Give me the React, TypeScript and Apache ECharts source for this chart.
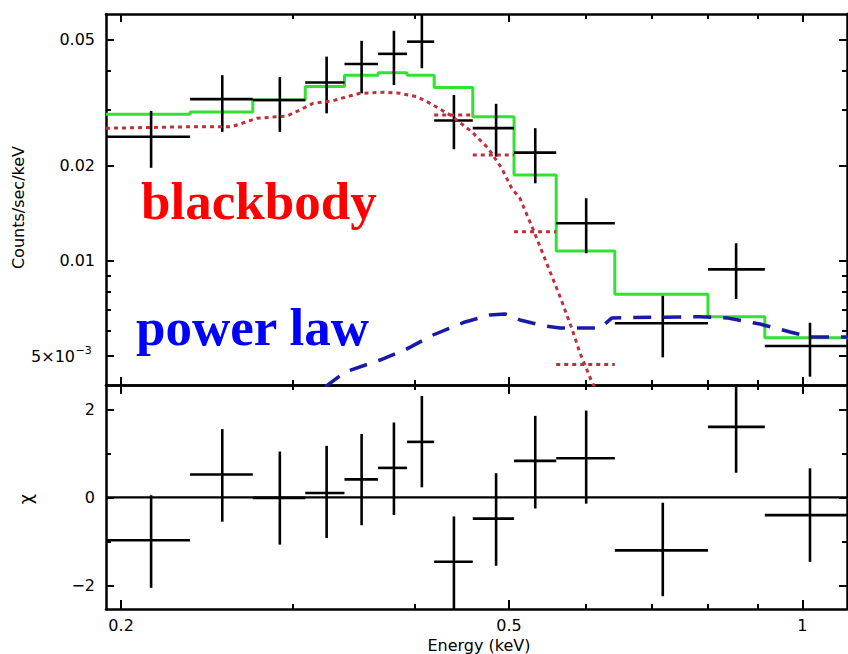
import React, { useEffect, useRef } from 'react';
import * as echarts from 'echarts';

// ---------- data ----------
const binLo = [0.193, 0.2354, 0.273, 0.309, 0.339, 0.367, 0.393, 0.419, 0.459, 0.506, 0.559, 0.642, 0.8, 0.915];
const binHi = [0.2354, 0.273, 0.309, 0.339, 0.367, 0.393, 0.419, 0.459, 0.506, 0.559, 0.642, 0.8, 0.915, 1.114];
const energy = [0.2147, 0.254, 0.291, 0.325, 0.353, 0.381, 0.407, 0.439, 0.485, 0.532, 0.6, 0.719, 0.855, 1.018];

const rate = [0.0247, 0.0325, 0.0323, 0.0367, 0.042, 0.0452, 0.0494, 0.0278, 0.0263, 0.022, 0.01315, 0.00635, 0.0094, 0.00538];
const rateLo = [0.0197, 0.0256, 0.0256, 0.0293, 0.0339, 0.036, 0.0407, 0.02255, 0.02137, 0.0176, 0.01057, 0.00495, 0.00758, 0.0043];
const rateHi = [0.0298, 0.0387, 0.0382, 0.0443, 0.0497, 0.0535, 0.0615, 0.0335, 0.0314, 0.0263, 0.01578, 0.00775, 0.01137, 0.00637];

const chi = [-0.97, 0.52, -0.01, 0.1, 0.41, 0.67, 1.26, -1.46, -0.48, 0.83, 0.89, -1.2, 1.6, -0.4];
const chiLo = [-2.05, -0.55, -1.07, -0.92, -0.63, -0.4, 0.23, -2.53, -1.55, -0.25, -0.14, -2.24, 0.56, -1.46];
const chiHi = [0.05, 1.55, 1.04, 1.17, 1.44, 1.7, 2.3, -0.43, 0.55, 1.85, 1.97, -0.12, 2.62, 0.66];

const totalModel = [0.0291, 0.0296, 0.0323, 0.0356, 0.0387, 0.0394, 0.0387, 0.0354, 0.0286, 0.0187, 0.01075, 0.00784, 0.00666, 0.00571];

const bbE = [0.193, 0.2363, 0.2598, 0.2692, 0.2756, 0.2958, 0.3052, 0.3147, 0.33, 0.3408, 0.3517, 0.3713, 0.3864, 0.4022, 0.415, 0.4351, 0.4579, 0.4758, 0.4915, 0.5032, 0.5131, 0.5296, 0.5466, 0.5641, 0.5799, 0.5914, 0.608, 0.62];
const bbV = [0.02628, 0.02658, 0.02658, 0.02757, 0.02826, 0.02874, 0.03003, 0.03152, 0.03212, 0.03307, 0.0339, 0.03416, 0.0339, 0.03307, 0.03152, 0.02894, 0.02564, 0.02276, 0.01963, 0.01697, 0.01578, 0.01252, 0.00982, 0.0077, 0.00612, 0.0051, 0.004146, 0.0037];
const bbBinIndex = [7, 8, 9, 10];
const bbBinV = [0.02895, 0.02163, 0.01237, 0.0047];

const plE = [0.3239, 0.3394, 0.3687, 0.3911, 0.4179, 0.4507, 0.478, 0.4952, 0.5131, 0.5444, 0.5641, 0.62, 0.6377, 0.7853, 0.8366, 0.9045, 0.9712, 1.018, 1.114];
const plV = [0.00399, 0.00445, 0.004855, 0.005224, 0.005826, 0.006406, 0.00674, 0.00679, 0.0065, 0.00622, 0.00613, 0.00613, 0.0066, 0.00666, 0.0066, 0.00631, 0.005956, 0.00574, 0.00574];

const xMajor = [0.2, 0.5, 1];
const xMinor = [0.3, 0.4, 0.6, 0.7, 0.8, 0.9];
const yTopMajor = [0.005, 0.01, 0.02, 0.05];
const yTopLabels = [0.01, 0.02, 0.05];
const yTopMinor = [0.006, 0.007, 0.008, 0.009, 0.03, 0.04];
const yBotMajor = [-2, 0, 2];
const yBotMinor = [-1, 1];

const X_MIN = 0.193;
const X_MAX = 1.111;
const YT_MIN = 0.004047;
const YT_MAX = 0.06043;
const YB_MIN = -2.53;
const YB_MAX = 2.55;

const FONT = 'DejaVu Sans';

function xAx(grid: number, pos: string, ticks: number[], len: number, line: boolean, labels?: number[]) {
  return {
    type: 'log', logBase: 10, gridIndex: grid, position: pos, min: X_MIN, max: X_MAX,
    axisLine: { show: line, onZero: false, lineStyle: { color: '#000', width: 2.5 } },
    axisTick: { show: true, inside: true, length: len, customValues: ticks, lineStyle: { color: '#000', width: 2 } },
    axisLabel: labels
      ? { show: true, customValues: labels, margin: 8, color: '#000', fontFamily: FONT, fontSize: 16,
          formatter: (v: number) => String(Number(v.toPrecision(6))) }
      : { show: false },
    splitLine: { show: false }, minorTick: { show: false }, minorSplitLine: { show: false },
  };
}

function yTopAx(pos: string, ticks: number[], len: number, line: boolean, labels?: number[]) {
  return {
    type: 'log', logBase: 10, gridIndex: 0, position: pos, min: YT_MIN, max: YT_MAX,
    axisLine: { show: line, onZero: false, lineStyle: { color: '#000', width: 2.5 } },
    axisTick: { show: true, inside: true, length: len, customValues: ticks, lineStyle: { color: '#000', width: 2 } },
    axisLabel: labels
      ? { show: true, customValues: labels, margin: 11, color: '#000', fontFamily: FONT, fontSize: 16,
          formatter: (v: number) => String(Number(v.toPrecision(6))) }
      : { show: false },
    splitLine: { show: false }, minorTick: { show: false }, minorSplitLine: { show: false },
  };
}

function yBotAx(pos: string, ticks: number[], len: number, line: boolean, labels?: number[]) {
  return {
    type: 'value', gridIndex: 1, position: pos, min: YB_MIN, max: YB_MAX,
    axisLine: { show: line, onZero: false, lineStyle: { color: '#000', width: 2.5 } },
    axisTick: { show: true, inside: true, length: len, customValues: ticks, lineStyle: { color: '#000', width: 2 } },
    axisLabel: labels
      ? { show: true, customValues: labels, margin: 11, color: '#000', fontFamily: FONT, fontSize: 16,
          formatter: (v: number) => (v < 0 ? '−' : '') + String(Math.abs(Math.round(v))) }
      : { show: false },
    splitLine: { show: false }, minorTick: { show: false }, minorSplitLine: { show: false },
  };
}

function crossRender(params: any, api: any) {
  const cs = params.coordSys;
  const top = cs.y, bot = cs.y + cs.height, left = cs.x, right = cs.x + cs.width;
  const cl = (v: number, a: number, b: number) => Math.max(a, Math.min(b, v));
  const c = api.coord([api.value(0), api.value(1)]);
  const l = api.coord([api.value(2), api.value(1)]);
  const r = api.coord([api.value(3), api.value(1)]);
  const t = api.coord([api.value(0), api.value(5)]);
  const b = api.coord([api.value(0), api.value(4)]);
  const st = { stroke: '#000', lineWidth: 2.6 };
  const children: any[] = [
    { type: 'line', shape: { x1: cl(l[0], left, right), y1: c[1], x2: cl(r[0], left, right), y2: c[1] }, style: st },
    { type: 'line', shape: { x1: c[0], y1: cl(t[1], top, bot), x2: c[0], y2: cl(b[1], top, bot) }, style: st },
  ];
  return { type: 'group', children };
}

function segRender(params: any, api: any) {
  const a = api.coord([api.value(0), api.value(2)]);
  const b = api.coord([api.value(1), api.value(2)]);
  return {
    type: 'line', shape: { x1: a[0], y1: a[1], x2: b[0], y2: b[1] },
    style: { stroke: '#c0303a', lineWidth: 3, lineDash: [4, 4] },
  };
}

export default function App() {
  const ref = useRef<HTMLDivElement>(null);
  useEffect(() => {
    if (!ref.current) return;
    const chart = echarts.init(ref.current, null, { renderer: 'svg' });

    const topCross = energy.map((e, i) => [e, rate[i], binLo[i], binHi[i], rateLo[i], rateHi[i]]);
    const botCross = energy.map((e, i) => [e, chi[i], binLo[i], binHi[i], chiLo[i], chiHi[i]]);
    const greenData: number[][] = [];
    binLo.forEach((lo, i) => { greenData.push([lo, totalModel[i]]); greenData.push([binHi[i], totalModel[i]]); });
    const bbCurve = bbE.map((e, i) => [e, bbV[i]]);
    const bbSegs = bbBinIndex.map((k, i) => [binLo[k], binHi[k], bbBinV[i]]);
    const plData = plE.map((e, i) => [e, plV[i]]);
    const zeroLine = [[X_MIN, 0], [X_MAX, 0]];

    const option: any = {
      animation: false,
      backgroundColor: '#fff',
      grid: [
        { left: 106, top: 14, width: 741, height: 371, outerBoundsMode: 'none', containLabel: false },
        { left: 106, top: 385, width: 741, height: 224, outerBoundsMode: 'none', containLabel: false },
      ],
      xAxis: [
        xAx(0, 'bottom', xMajor, 8, true),
        xAx(0, 'bottom', xMinor, 5, false),
        xAx(0, 'top', xMajor, 8, true),
        xAx(0, 'top', xMinor, 5, false),
        xAx(1, 'bottom', xMajor, 9, true, xMajor),
        xAx(1, 'bottom', xMinor, 5, false),
        xAx(1, 'top', xMajor, 9, true),
        xAx(1, 'top', xMinor, 5, false),
      ],
      yAxis: [
        yTopAx('left', yTopMajor, 8, true, yTopLabels),
        yTopAx('left', yTopMinor, 5, false),
        yTopAx('right', yTopMajor, 8, true),
        yTopAx('right', yTopMinor, 5, false),
        yBotAx('left', yBotMajor, 8, true, yBotMajor),
        yBotAx('left', yBotMinor, 5, false),
        yBotAx('right', yBotMajor, 8, true),
        yBotAx('right', yBotMinor, 5, false),
      ],
      series: [
        {
          type: 'line', xAxisIndex: 0, yAxisIndex: 0, data: greenData, symbol: 'none', showSymbol: false,
          lineStyle: { color: '#33e033', width: 3 }, z: 2, silent: true,
        },
        {
          type: 'custom', xAxisIndex: 0, yAxisIndex: 0, data: topCross, renderItem: crossRender,
          encode: { x: 0, y: 1 }, z: 3, silent: true,
        },
        {
          type: 'line', xAxisIndex: 0, yAxisIndex: 0, data: bbCurve, symbol: 'none', showSymbol: false,
          lineStyle: { color: '#c0303a', width: 3, type: [4, 4] }, z: 4, silent: true, clip: true,
        },
        {
          type: 'custom', xAxisIndex: 0, yAxisIndex: 0, data: bbSegs, renderItem: segRender,
          encode: { x: [0, 1], y: 2 }, z: 4, silent: true,
        },
        {
          type: 'line', xAxisIndex: 0, yAxisIndex: 0, data: plData, symbol: 'none', showSymbol: false,
          lineStyle: { color: '#1a1aa6', width: 3.5, type: [18, 12] }, z: 5, silent: true, clip: true,
        },
        {
          type: 'line', xAxisIndex: 4, yAxisIndex: 4, data: zeroLine, symbol: 'none', showSymbol: false,
          lineStyle: { color: '#000', width: 2.3 }, z: 2, silent: true,
        },
        {
          type: 'custom', xAxisIndex: 4, yAxisIndex: 4, data: botCross, renderItem: crossRender,
          encode: { x: 0, y: 1 }, z: 3, silent: true,
        },
      ],
      graphic: [
        {
          type: 'text', x: 75, y: 356,
          style: { text: '5×10', fill: '#000', fontFamily: FONT, fontSize: 16,
            align: 'right', verticalAlign: 'middle', textAlign: 'right', textVerticalAlign: 'middle' },
        },
        {
          type: 'text', x: 75.5, y: 350,
          style: { text: '−3', fill: '#000', fontFamily: FONT, fontSize: 11,
            align: 'left', verticalAlign: 'middle', textAlign: 'left', textVerticalAlign: 'middle' },
        },
        {
          type: 'text', x: 141, y: 200.5, z: 10,
          style: { text: 'blackbody', fill: '#ff0000', fontFamily: 'Liberation Serif', fontWeight: 'bold', fontSize: 53,
            align: 'left', verticalAlign: 'middle', textAlign: 'left', textVerticalAlign: 'middle' },
        },
        {
          type: 'text', x: 136, y: 327, z: 10,
          style: { text: 'power law', fill: '#0000ff', fontFamily: 'Liberation Serif', fontWeight: 'bold', fontSize: 53,
            align: 'left', verticalAlign: 'middle', textAlign: 'left', textVerticalAlign: 'middle' },
        },
        {
          type: 'text', x: 18.5, y: 207.5, rotation: Math.PI / 2,
          style: { text: 'Counts/sec/keV', fill: '#000', fontFamily: FONT, fontSize: 16,
            align: 'center', verticalAlign: 'middle', textAlign: 'center', textVerticalAlign: 'middle' },
        },
        {
          type: 'text', x: 25, y: 499, rotation: Math.PI / 2,
          style: { text: 'χ', fill: '#000', fontFamily: FONT, fontSize: 18,
            align: 'center', verticalAlign: 'middle', textAlign: 'center', textVerticalAlign: 'middle' },
        },
        {
          type: 'text', x: 479, y: 645,
          style: { text: 'Energy (keV)', fill: '#000', fontFamily: FONT, fontSize: 16,
            align: 'center', verticalAlign: 'middle', textAlign: 'center', textVerticalAlign: 'middle' },
        },
      ],
    };
    chart.setOption(option);
    return () => chart.dispose();
  }, []);
  return <div ref={ref} style={{ position: 'absolute', left: 0, top: 0, width: 848, height: 654, background: '#fff' }} />;
}
